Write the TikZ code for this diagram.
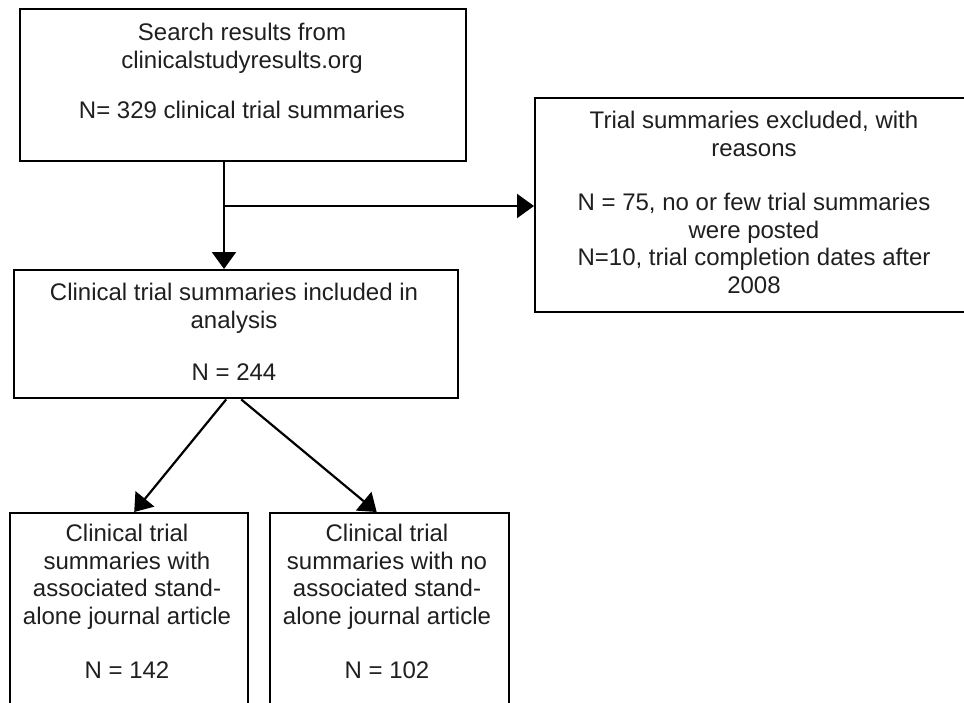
\documentclass[tikz,border=0pt]{standalone}
\usepackage{fontspec}
\setmainfont{Liberation Sans}
\usetikzlibrary{arrows.meta,calc}
\begin{document}
\begin{tikzpicture}[x=1pt,y=-1pt,
  box/.style={draw=black,line width=2.4pt,fill=white,inner sep=0pt,anchor=north west},
  txt/.style={align=center,anchor=north,inner sep=0pt,text=black!88,
    font=\fontsize{24}{27.5}\selectfont},
  arr/.style={draw=black,line width=2.2pt,-{Triangle[length=17pt,width=24pt]}}]
\path[use as bounding box,clip] (0,0) rectangle (964,702);
\fill[white] (0,0) rectangle (964,702);
% boxes
\node[box,minimum width=446pt,minimum height=152pt] (b1) at (19,8) {};
\node[box,minimum width=440pt,minimum height=214pt] (b2) at (534,97) {};
\node[box,minimum width=444pt,minimum height=128pt] (b3) at (13,269) {};
\node[box,minimum width=238pt,minimum height=200pt] (b4) at (9,512) {};
\node[box,minimum width=239pt,minimum height=200pt] (b5) at (269,512) {};
% texts
\node[txt] (t1) at (242,23) {Search results from\\clinicalstudyresults.org\\[23pt]N= 329 clinical trial summaries};
\node[txt] (t2) at (754,111) {Trial summaries excluded, with\\reasons\\[27pt]N = 75, no or few trial summaries\\were posted\\N=10, trial completion dates after\\2008};
\node[txt] (t3) at (234,283) {Clinical trial summaries included in\\analysis\\[25pt]N = 244};
\node[txt] (t4) at (127,524) {Clinical trial\\summaries with\\associated stand-\\alone journal article\\[27pt]N = 142};
\node[txt] (t5) at (387,524) {Clinical trial\\summaries with no\\associated stand-\\alone journal article\\[27pt]N = 102};
% connectors
\coordinate (j) at (224,206);
\draw[line width=2.2pt] (j |- b1.south) -- (j);
\draw[arr] (j) -- (j |- b3.north);
\draw[arr] (j) -- (j -| b2.west);
\draw[arr] ([xshift=-10pt]b3.south) -- ([xshift=5pt]b4.north);
\draw[arr] ([xshift=5pt]b3.south) -- ([xshift=-13pt]b5.north);
\end{tikzpicture}
\end{document}
